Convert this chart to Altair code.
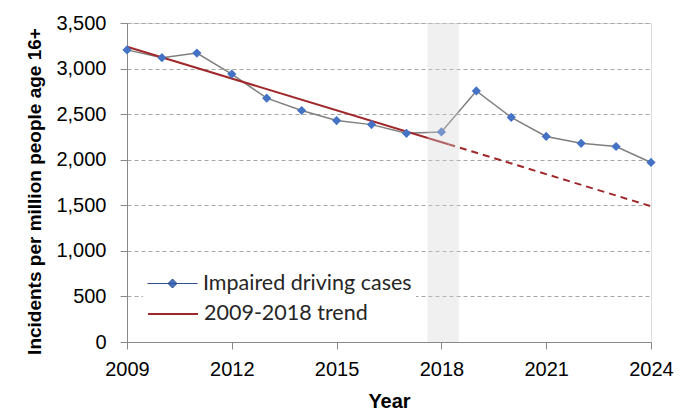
import altair as alt
import pandas as pd

# ---- data ----
years = [2009, 2010, 2011, 2012, 2013, 2014, 2015, 2016,
         2017, 2018, 2019, 2020, 2021, 2022, 2023, 2024]
cases = [3205, 3120, 3170, 2940, 2675, 2540, 2430, 2385,
         2290, 2305, 2755, 2465, 2255, 2180, 2145, 1970]

trend_solid_years = [2009, 2018.2]
trend_solid_vals = [3240, 2170]
trend_dash_years = [2018.2, 2024]
trend_dash_vals = [2170, 1490]

band_start = [2017.6]
band_end = [2018.5]

x_ticks = [2009, 2012, 2015, 2018, 2021, 2024]
y_ticks = [0, 500, 1000, 1500, 2000, 2500, 3000, 3500]

series_cases = "Impaired driving cases"
series_trend = "2009-2018 trend"

FONT = "Lato"
BLUE = "#4472c4"
RED = "#a0282b"
GREY_LINE = "#7f7f7f"

df_cases = pd.DataFrame({"year": years, "value": cases, "series": series_cases})
df_solid = pd.DataFrame({"year": trend_solid_years, "value": trend_solid_vals, "series": series_trend})
df_dash = pd.DataFrame({"year": trend_dash_years, "value": trend_dash_vals, "series": series_trend})
df_band = pd.DataFrame({"start": band_start, "end": band_end})

x_scale = alt.Scale(domain=[2009, 2024], nice=False, zero=False)
y_scale = alt.Scale(domain=[0, 3500], nice=False)

x_enc = alt.X("year:Q", scale=x_scale,
              axis=alt.Axis(values=x_ticks, format="d", title="Year", grid=False,
                            labelFontSize=20, titleFontSize=20, labelPadding=10,
                            labelFlush=False, labelOverlap=False,
                            titlePadding=12, tickSize=7))
y_enc = alt.Y("value:Q", scale=y_scale,
              axis=alt.Axis(values=y_ticks, format=",.0f", title="Incidents per million people age 16+",
                            grid=True, gridDash=[4, 3], gridColor="#a6a6a6",
                            labelFontSize=20, titleFontSize=19, labelPadding=14,
                            labelFlush=False, labelOverlap=False,
                            titlePadding=11, titleY=168, tickSize=7))

line = alt.Chart(df_cases).mark_line(color=GREY_LINE, strokeWidth=1.5).encode(x=x_enc, y=y_enc)

diamond_path = "M-1,0H1M0,-0.18L0.18,0L0,0.18L-0.18,0Z"

points = alt.Chart(df_cases).mark_point(shape="diamond", filled=True, size=85, opacity=1).encode(
    x="year:Q", y="value:Q",
    color=alt.Color("series:N",
                    scale=alt.Scale(domain=[series_cases], range=[BLUE]),
                    legend=alt.Legend(title=None, orient="none", legendX=16, legendY=231,
                                      symbolType=diamond_path, symbolSize=2500,
                                      padding=4, fillColor="white",
                                      labelFontSize=21.5, labelFont=FONT, labelColor="#262626",
                                      labelOffset=5, labelLimit=400, symbolOpacity=1,
                                      symbolFillColor=BLUE, symbolStrokeColor="#2f4f8f",
                                      symbolStrokeWidth=1)),
)

trend_solid = alt.Chart(df_solid).mark_line(strokeWidth=2).encode(
    x="year:Q", y="value:Q",
    stroke=alt.Stroke("series:N",
                      scale=alt.Scale(domain=[series_trend], range=[RED]),
                      legend=alt.Legend(title=None, orient="none", legendX=16, legendY=261,
                                        symbolType="stroke", symbolSize=2500, symbolStrokeWidth=2,
                                        padding=4, fillColor="white",
                                        labelFontSize=21.5, labelFont=FONT, labelColor="#262626",
                                        labelOffset=5, labelLimit=400)),
)

trend_dash = alt.Chart(df_dash).mark_line(strokeWidth=2, strokeDash=[7, 5], color=RED).encode(
    x="year:Q", y="value:Q")

band = alt.Chart(df_band).mark_rect(color="#d4d4d4", opacity=0.35).encode(
    x="start:Q", x2="end:Q", y=alt.datum(0), y2=alt.datum(3500))

chart = alt.layer(line, trend_solid, trend_dash, points, band).properties(
    width=524, height=319,
    padding={"left": 119, "top": 15, "right": 37, "bottom": 68},
    autosize="none",
).configure_view(stroke=None).configure_axis(
    labelFont=FONT, titleFont=FONT, labelColor="#404040", titleColor="#262626",
    domainColor="#a6a6a6", tickColor="#a6a6a6", titleFontWeight="bold",
).configure(background="white")

chart.save("out.html", embed_options={"renderer": "svg", "actions": False})
